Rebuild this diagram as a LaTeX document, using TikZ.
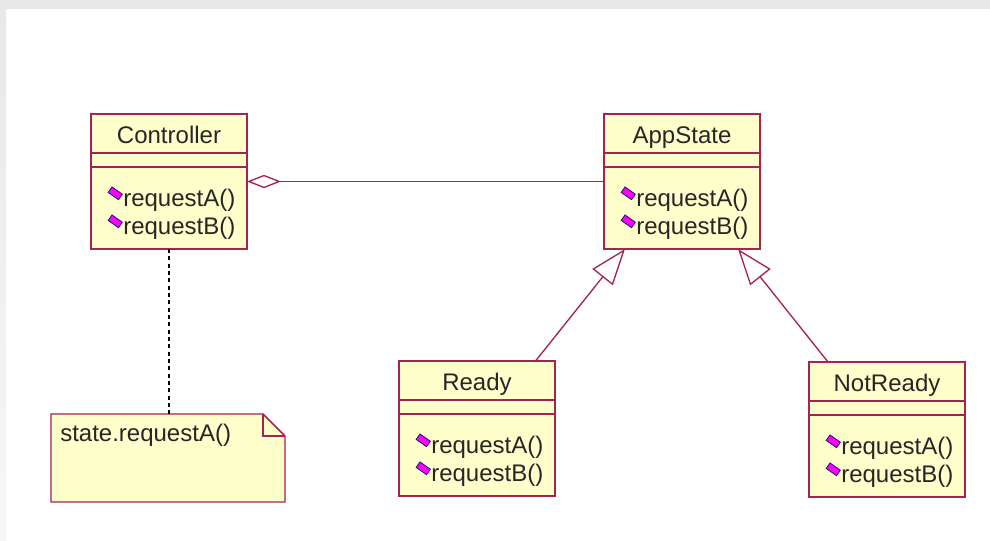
\documentclass[tikz,border=0pt]{standalone}
\usepackage{fontspec}
\setmainfont{Liberation Sans}
\usepackage{xcolor}
\usetikzlibrary{arrows.meta}
\definecolor{umlline}{RGB}{165,35,80}
\definecolor{umlfill}{RGB}{255,255,204}
\definecolor{umlicon}{RGB}{255,0,255}
\definecolor{umliconedge}{RGB}{20,20,110}
\definecolor{framegray}{RGB}{232,232,232}

% class box with title, empty attribute part and two operations
\newcommand{\umlclass}[4]{%
  \node[classbox, anchor=north west] (#1) at (#3,#4) {};
  \draw[part] ([yshift=-29.25pt]#1.north west) -- ([yshift=-29.25pt]#1.north east);
  \draw[part] ([yshift=-39.75pt]#1.north west) -- ([yshift=-39.75pt]#1.north east);
  \node[classname] (#1-title) at ([yshift=-22.5pt]#1.north) {#2};
  \node[methicon] (#1-ia) at ([xshift=18.2pt,yshift=-59.5pt]#1.north west) {};
  \node[methicon] (#1-ib) at ([xshift=18.2pt,yshift=-80.5pt]#1.north west) {};
  \node[method] (#1-a) at ([xshift=24pt,yshift=-69.75pt]#1.north west) {requestA()};
  \node[method] (#1-b) at ([xshift=24pt,yshift=-90.75pt]#1.north west) {requestB()};
}

\begin{document}
\begin{tikzpicture}[x=0.75pt, y=-0.75pt,
  classbox/.style={draw=umlline, fill=umlfill, line width=1.1pt, minimum width=117pt,
                   minimum height=101.25pt, inner sep=0pt, outer sep=0pt},
  part/.style={umlline, line width=1.1pt},
  classname/.style={anchor=base, font=\fontsize{18}{20}\selectfont, text=black!85, inner sep=0pt},
  method/.style={anchor=base west, font=\fontsize{18}{20}\selectfont, text=black!85, inner sep=0pt},
  methicon/.style={draw=umliconedge, fill=umlicon, line width=0.6pt, minimum width=9.5pt,
                   minimum height=5pt, inner sep=0pt, rotate=-35},
  notebox/.style={minimum width=175.5pt, minimum height=66pt, inner sep=0pt, outer sep=0pt},
  aggr/.style={{Diamond[open, length=25.5pt, width=10pt]}-, umlline, line width=1pt},
  gen/.style={-{Triangle[open, length=27pt, width=19.5pt]}, umlline, line width=1pt},
  link/.style={black, line width=0.8pt, dash pattern=on 3pt off 2.5pt}]
\useasboundingbox (0,0) rectangle (990,541);
% window frame
\fill[white] (0,0) rectangle (990,541);
\fill[framegray] (0,0) rectangle (990,9);
\shade[top color=framegray, bottom color=white!97!black] (0,9) rectangle (6,541);

\umlclass{ctrl}{Controller}{91}{114}
\umlclass{app}{AppState}{604}{114}
\umlclass{ready}{Ready}{399}{361}
\umlclass{notready}{NotReady}{809}{362}

% note with folded corner
\node[notebox, anchor=north west] (note) at (51,414) {};
\filldraw[umlline, fill=umlfill, line width=1.1pt] (note.north west)
  -- ([xshift=-16.5pt]note.north east) -- ([yshift=-16.5pt]note.north east)
  -- (note.south east) -- (note.south west) -- cycle;
\draw[part] ([xshift=-16.5pt]note.north east) |- ([yshift=-16.5pt]note.north east);
\node[method] (note-text) at (60,442) {state.requestA()};

\draw[aggr] (ctrl.east) -- (app.west);
\draw[link] (ctrl.south) -- (ctrl.south |- note.north);
\draw[gen] ([xshift=43.9pt]ready.north) -- ([xshift=-42.75pt]app.south);
\draw[gen] ([xshift=-44.25pt]notready.north) -- ([xshift=42pt]app.south);
\end{tikzpicture}
\end{document}
